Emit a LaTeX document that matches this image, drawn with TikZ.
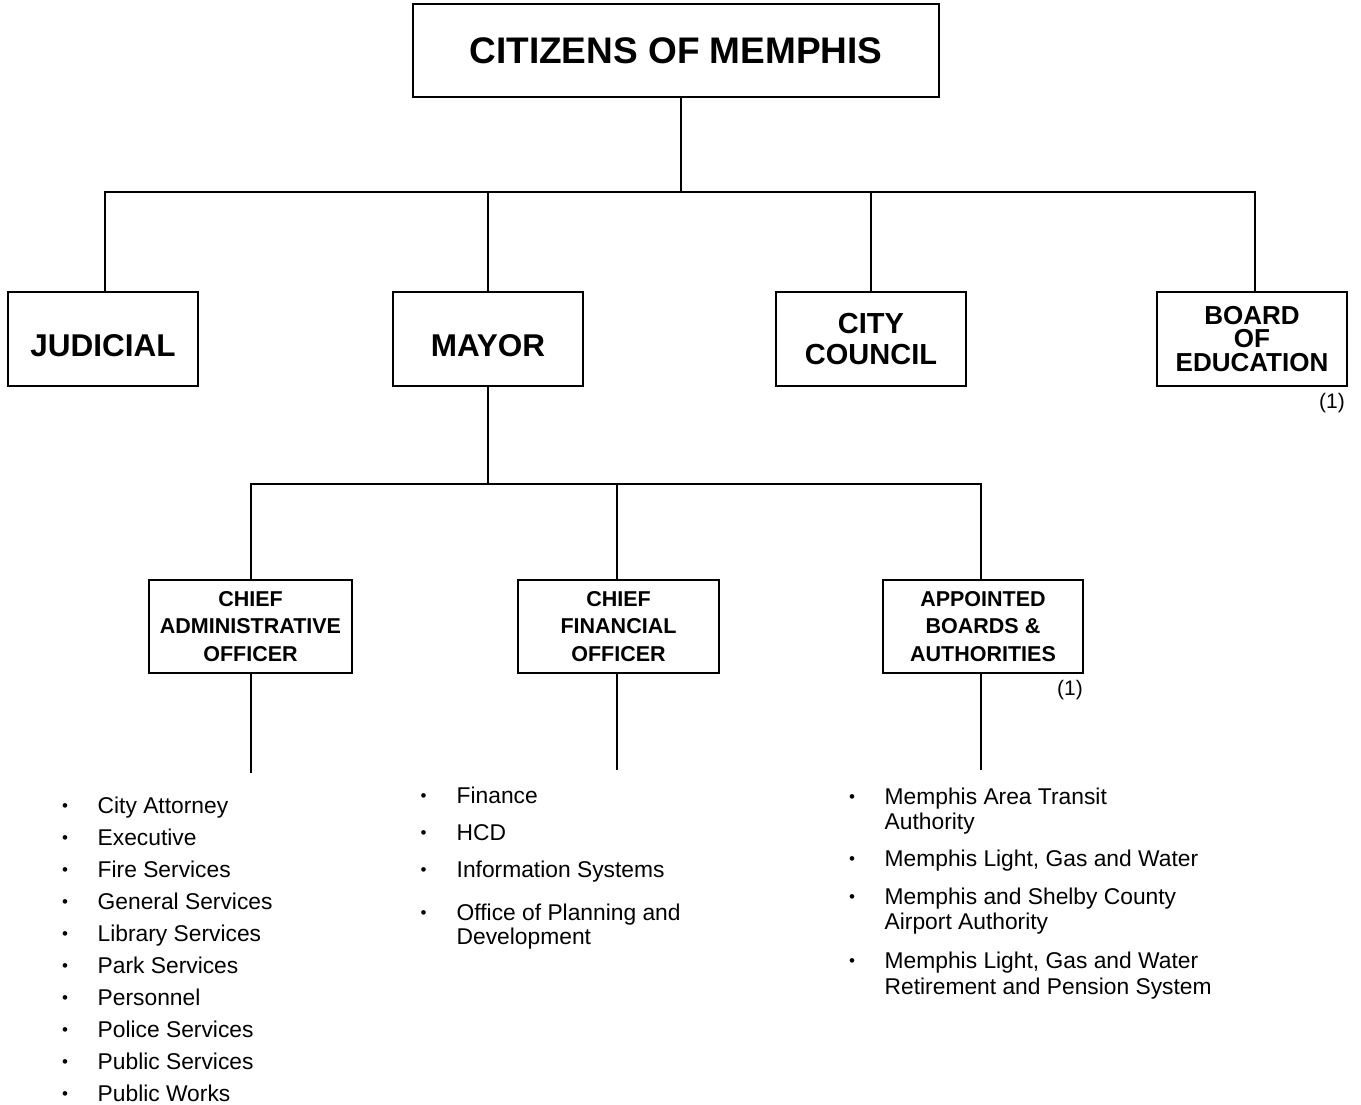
\documentclass[tikz,border=0pt]{standalone}
\usepackage{fontspec}
\setmainfont{Liberation Sans}
\begin{document}
\begin{tikzpicture}[x=1pt,y=-1pt,
  box/.style={draw,line width=2.3pt,inner sep=0pt},
  conn/.style={line width=2pt},
  item/.style={anchor=base west,inner sep=0pt,align=left,font=\fontsize{22.8}{25.5}\selectfont},
  bul/.style={anchor=base,inner sep=0pt,yshift=2pt,font=\fontsize{17}{20}\selectfont},
  note/.style={anchor=east,inner sep=0pt,font=\fontsize{21}{25}\selectfont}]
\useasboundingbox[fill=white] (0,0) rectangle (1361,1105);

% top level
\node[box,minimum width=526pt,minimum height=93pt,font=\fontsize{37}{40}\selectfont\bfseries] (cit) at (676,50.5) {CITIZENS OF MEMPHIS};

\node[box,minimum width=190pt,minimum height=94pt,text height=34pt,text depth=0pt,font=\fontsize{31.5}{34}\selectfont\bfseries] (jud) at (103,339) {JUDICIAL};
\node[box,minimum width=190pt,minimum height=94pt,text height=34pt,text depth=0pt,font=\fontsize{31.5}{34}\selectfont\bfseries] (may) at (488,339) {MAYOR};
\node[box,minimum width=190pt,minimum height=94pt,align=center,font=\fontsize{29}{31}\selectfont\bfseries] (cc) at (871,339) {CITY\\COUNCIL};
\node[box,minimum width=190pt,minimum height=94pt,align=center,font=\fontsize{26}{23.7}\selectfont\bfseries] (boe) at (1252,339) {BOARD\\OF\\EDUCATION};
\node[note] (n1) at (1345,403) {(1)};

% second level
\node[box,minimum width=203pt,minimum height=93pt,align=center,font=\fontsize{21.5}{27.5}\selectfont\bfseries] (cao) at (250.5,626.5) {CHIEF\\ADMINISTRATIVE\\OFFICER};
\node[box,minimum width=201pt,minimum height=93pt,align=center,font=\fontsize{21.5}{27.5}\selectfont\bfseries] (cfo) at (618.5,626.5) {CHIEF\\FINANCIAL\\OFFICER};
\node[box,minimum width=200pt,minimum height=93pt,align=center,font=\fontsize{21.5}{27.5}\selectfont\bfseries] (app) at (983,626.5) {APPOINTED\\BOARDS \&\\AUTHORITIES};
\node[note] (n2) at (1083,690) {(1)};

% connectors top
\coordinate (bus) at (681,192);
\draw[conn] ([xshift=5pt]cit.south) -- (bus);
\draw[conn] ([xshift=2pt]jud.north) |- (bus) -| ([xshift=3pt]boe.north);
\draw[conn] (may.north) -- (may.north |- bus);
\draw[conn] (cc.north) -- (cc.north |- bus);

% connectors mayor
\coordinate (mbus) at (488,484);
\draw[conn] (may.south) -- (mbus);
\draw[conn] (cao.north) |- (mbus) -| ([xshift=-2pt]app.north);
\draw[conn] ([xshift=-2pt]cfo.north) -- ([xshift=-2pt]cfo.north |- mbus);

% stubs
\coordinate (caoend) at (250.5,773);
\coordinate (cfoend) at (616.5,770);
\coordinate (append) at (981,770);
\draw[conn] (cao.south) -- (cao.south |- caoend);
\draw[conn] ([xshift=-2pt]cfo.south) -- (cfoend);
\draw[conn] ([xshift=-2pt]app.south) -- (append);

% left list
\foreach \t [count=\i] in {City Attorney,Executive,Fire Services,General Services,Library Services,Park Services,Personnel,Police Services,Public Services,Public Works}{
  \node[bul] (lb\i) at (65,{781+32*\i}) {•};
  \node[item] (lt\i) at (97.5,{781+32*\i}) {\t};
}

% middle list (multi-line nodes are anchored at their last baseline)
\node[bul] (mb1) at (423.5,803.5) {•};
\node[item] (mt1) at (456.5,803.5) {Finance};
\node[bul] (mb2) at (423.5,840) {•};
\node[item] (mt2) at (456.5,840) {HCD};
\node[bul] (mb3) at (423.5,877) {•};
\node[item] (mt3) at (456.5,877) {Information Systems};
\node[bul] (mb4) at (423.5,920) {•};
\node[item,font=\fontsize{22.8}{24}\selectfont] (mt4) at (456.5,944) {Office of Planning and\\Development};

% right list
\node[bul] (rb1) at (852,804.3) {•};
\node[item] (rt1) at (884.5,829.8) {Memphis Area Transit\\Authority};
\node[bul] (rb2) at (852,866.7) {•};
\node[item] (rt2) at (884.5,866.7) {Memphis Light, Gas and Water};
\node[bul] (rb3) at (852,904.3) {•};
\node[item] (rt3) at (884.5,929.8) {Memphis and Shelby County\\Airport Authority};
\node[bul] (rb4) at (852,968.7) {•};
\node[item] (rt4) at (884.5,994.2) {Memphis Light, Gas and Water\\Retirement and Pension System};
\end{tikzpicture}
\end{document}
